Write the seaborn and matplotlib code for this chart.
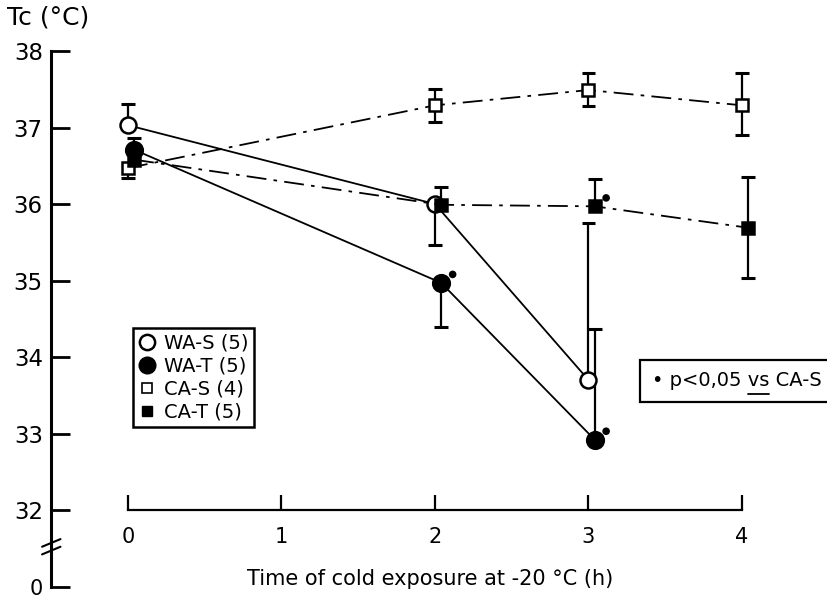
import matplotlib
matplotlib.use("Agg")
import numpy as np
import pandas as pd
import matplotlib.pyplot as plt
import seaborn as sns
from matplotlib.lines import Line2D

# Core temperature (Tc, deg C) during cold exposure at -20 C, mean with one-sided SD bars
time_wa = [0, 2, 3]
time_ca = [0, 2, 3, 4]

was_mean = [37.03, 36.00, 33.70]
was_up = [0.28, 0.0, 2.05]
was_down = [0.0, 0.54, 0.0]

wat_mean = [36.71, 34.97, 32.92]
wat_up = [0.15, 0.0, 1.45]
wat_down = [0.0, 0.58, 0.0]
wat_sig = [False, True, True]

cas_mean = [36.47, 37.29, 37.49, 37.29]
cas_up = [0.0, 0.21, 0.22, 0.42]
cas_down = [0.13, 0.22, 0.21, 0.39]

cat_mean = [36.58, 35.99, 35.97, 35.69]
cat_up = [0.0, 0.23, 0.36, 0.66]
cat_down = [0.0, 0.0, 0.0, 0.66]
cat_sig = [False, False, True, False]

legend_labels = ["WA-S (5)", "WA-T (5)", "CA-S (4)", "CA-T (5)"]
y_ticks = [31, 32, 33, 34, 35, 36, 37, 38]
y_ticklabels = ["0", "32", "33", "34", "35", "36", "37", "38"]
x_ticks = [0, 1, 2, 3, 4]
x_ticklabels = ["0", "1", "2", "3", "4"]

sns.set_style("ticks")
plt.rcParams["font.family"] = ["DejaVu Sans"]
plt.rcParams["text.color"] = "black"
plt.rcParams["axes.labelcolor"] = "black"
plt.rcParams["xtick.color"] = "black"
plt.rcParams["ytick.color"] = "black"
plt.rcParams["axes.edgecolor"] = "black"

fig = plt.figure(figsize=(8.27, 5.98), dpi=100)
ax = fig.add_axes([0, 0, 1, 1])
ax.set_xlim(-0.834, 4.554)
ax.set_ylim(30.85, 38.667)

dashdot = (0, (11, 4, 2, 4))
series = [
    # label, x, mean, up, down, linestyle, marker, face, size, dodge
    (legend_labels[0], time_wa, was_mean, was_up, was_down, "-", "o", "white", 11.5, 0.0),
    (legend_labels[1], time_wa, wat_mean, wat_up, wat_down, "-", "o", "black", 12, 0.04),
    (legend_labels[2], time_ca, cas_mean, cas_up, cas_down, dashdot, "s", "white", 8.5, 0.0),
    (legend_labels[3], time_ca, cat_mean, cat_up, cat_down, dashdot, "s", "black", 8.5, 0.04),
]

cap = 0.045
for label, xs, ms, up, dn, ls, mk, fc, sz, dodge in series:
    df = pd.DataFrame({"t": np.array(xs, dtype=float) + dodge, "tc": ms})
    # one-sided error bars
    for t, m, u, d in zip(df["t"], df["tc"], up, dn):
        if u > 0:
            ax.vlines(t, m, m + u, color="black", lw=1.6, zorder=2)
            ax.hlines(m + u, t - cap, t + cap, color="black", lw=2.2, zorder=2)
        if d > 0:
            ax.vlines(t, m - d, m, color="black", lw=1.6, zorder=2)
            ax.hlines(m - d, t - cap, t + cap, color="black", lw=2.2, zorder=2)
    sns.lineplot(data=df, x="t", y="tc", ax=ax, color="black", linestyle=ls, lw=1.3,
                 marker=mk, markersize=sz, markerfacecolor=fc, markeredgecolor="black",
                 markeredgewidth=1.8, errorbar=None, zorder=3)

# significance dots (p<0.05 vs CA-S)
sig_t, sig_v = [], []
for xs, ms, sig, dodge in [(time_wa, wat_mean, wat_sig, 0.04), (time_ca, cat_mean, cat_sig, 0.04)]:
    for t, m, s in zip(xs, ms, sig):
        if s:
            sig_t.append(t + dodge + 0.075)
            sig_v.append(m + 0.11)
sns.scatterplot(x=sig_t, y=sig_v, ax=ax, color="black", s=30, edgecolor="none", zorder=4)

# axes styling
for side in ["top", "right"]:
    ax.spines[side].set_visible(False)
ax.spines["left"].set_position(("data", -0.5))
ax.spines["left"].set_bounds(31, 38)
ax.spines["left"].set_linewidth(2.2)
ax.spines["bottom"].set_position(("data", 32))
ax.spines["bottom"].set_bounds(0, 4)
ax.spines["bottom"].set_linewidth(1.6)

ax.set_yticks(y_ticks)
ax.set_yticklabels(y_ticklabels)
ax.set_xticks(x_ticks)
ax.set_xticklabels(x_ticklabels)
ax.tick_params(axis="y", left=True, direction="in", length=14, width=2.0, pad=6, labelsize=16.5)
ax.tick_params(axis="x", bottom=True, direction="in", length=11, width=1.6, pad=12, labelsize=15)
# the "0" below the axis break sits right at the bottom edge
zero_label = ax.get_yticklabels()[0]
zero_label.set_fontsize(15)
zero_label.set_verticalalignment("center_baseline")

# axis break marks on the y axis
for yb in [31.47, 31.57]:
    ax.plot([-0.56, -0.44], [yb - 0.05, yb + 0.05], color="black", lw=1.5, clip_on=False)

ax.set_ylabel("Tc (°C)", rotation=0, fontsize=18, ha="left", va="top")
ax.yaxis.set_label_coords(0.008, 0.99)
ax.set_xlabel("Time of cold exposure at -20 °C (h)", fontsize=15, va="top")
ax.xaxis.set_label_coords(0.52, 0.048)

# marker legend
handles = [
    Line2D([], [], ls="none", marker="o", ms=11, mfc="white", mec="black", mew=1.8),
    Line2D([], [], ls="none", marker="o", ms=12, mfc="black", mec="black"),
    Line2D([], [], ls="none", marker="s", ms=7, mfc="white", mec="black", mew=1.2),
    Line2D([], [], ls="none", marker="s", ms=7, mfc="black", mec="black"),
]
leg = ax.legend(handles, legend_labels, loc="upper left",
                bbox_to_anchor=(133 / 827, 1 - 328 / 598), bbox_transform=fig.transFigure,
                fontsize=14, frameon=True, fancybox=False, framealpha=1,
                handlelength=0.8, handletextpad=0.5, labelspacing=0.2,
                borderpad=0.3, borderaxespad=0)
leg.get_frame().set_edgecolor("black")
leg.get_frame().set_linewidth(1.8)

# significance note with underlined "vs"
prefix = "• p<0,05 "
note = prefix + "vs CA-S"
fs_note = 14
x0, y0 = 652 / 827, 1 - 381 / 598
ntext = fig.text(x0, y0, note, fontsize=fs_note, ha="left", va="center",
                 bbox=dict(boxstyle="square,pad=0.6", fc="white", ec="black", lw=1.6))
renderer = fig.canvas.get_renderer()
def text_width(s):
    tmp = fig.text(x0, y0, s, fontsize=fs_note, ha="left", va="center")
    w = tmp.get_window_extent(renderer).width
    tmp.remove()
    return w
w_end = text_width(prefix + "vs")
w_vs = text_width("vs")
px0 = x0 * 827
fig.add_artist(Line2D([(px0 + w_end - w_vs) / 827, (px0 + w_end) / 827],
                      [y0 - 13 / 598, y0 - 13 / 598], color="black", lw=1.3,
                      transform=fig.transFigure, zorder=10))

fig.savefig("out.png", dpi=100)
